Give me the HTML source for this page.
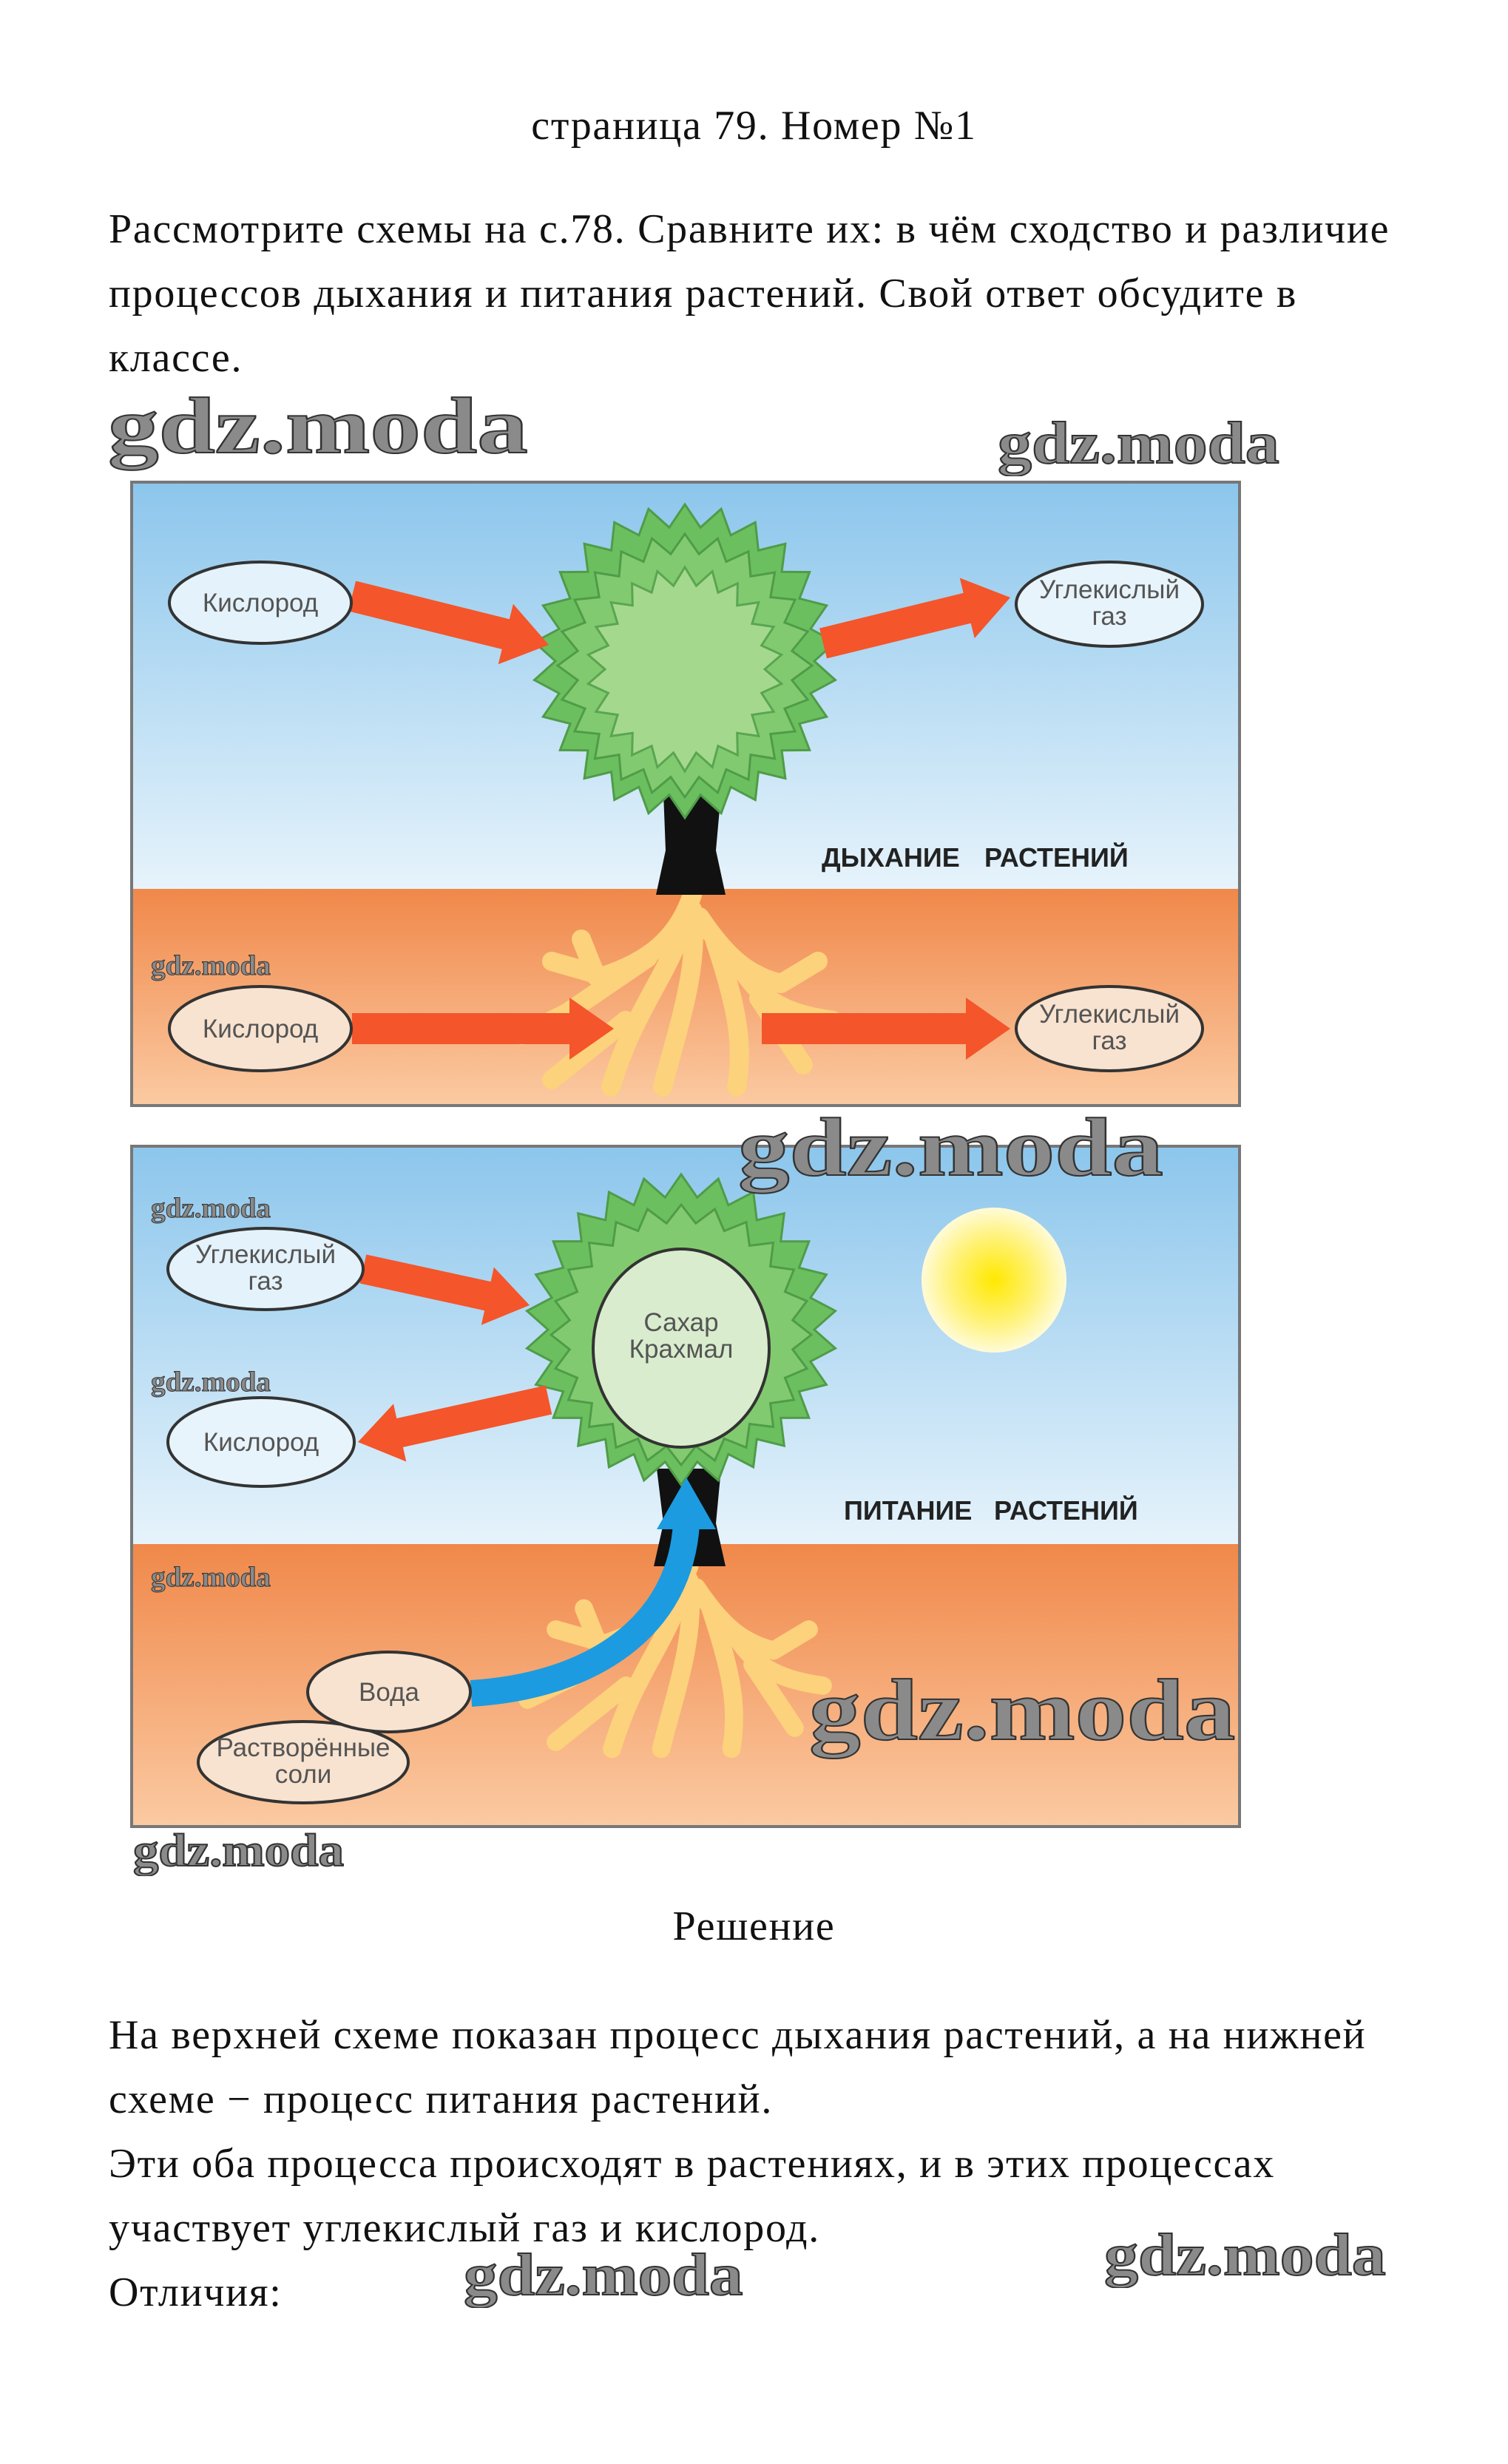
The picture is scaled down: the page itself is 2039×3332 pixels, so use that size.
<!DOCTYPE html>
<html><head><meta charset="utf-8"><style>
body{margin:0;width:2039px;height:3332px;background:#fff;position:relative;overflow:hidden;font-family:"Liberation Serif",serif;}
.t{position:absolute;font-size:56px;letter-spacing:1.7px;color:#111;white-space:nowrap;}
.wm{position:absolute;font-family:"Liberation Serif",serif;font-weight:bold;color:#8a8a8a;-webkit-text-stroke:2px #333;white-space:nowrap;transform-origin:0 0;transform:scaleX(1.25);}
.sm{font-size:38px;-webkit-text-stroke:1px #333;transform:scaleX(1.03);}
svg{position:absolute;left:0;top:0;}
</style></head><body>
<svg id="s" width="2039" height="3332" viewBox="0 0 2039 3332">
<defs>
<linearGradient id="sky" x1="0" y1="0" x2="0" y2="1"><stop offset="0" stop-color="#8cc6ec"/><stop offset="1" stop-color="#e6f3fb"/></linearGradient>
<linearGradient id="gr" x1="0" y1="0" x2="0" y2="1"><stop offset="0" stop-color="#f0884a"/><stop offset="1" stop-color="#fbcaa2"/></linearGradient>
<radialGradient id="sun"><stop offset="0" stop-color="#ffe800"/><stop offset="0.6" stop-color="#fff27a"/><stop offset="1" stop-color="#fffbd8"/></radialGradient>
</defs>
<rect x="178" y="652" width="1498" height="550" fill="url(#sky)"/>
<rect x="178" y="1202" width="1498" height="293" fill="url(#gr)"/>
<rect x="178" y="652" width="1498" height="843" fill="none" stroke="#777" stroke-width="4"/>
<rect x="178" y="1550" width="1498" height="538" fill="url(#sky)"/>
<rect x="178" y="2088" width="1498" height="382" fill="url(#gr)"/>
<rect x="178" y="1550" width="1498" height="920" fill="none" stroke="#777" stroke-width="4"/>
<g id="dyn"></g>
<circle cx="1344" cy="1731" r="98" fill="url(#sun)"/>
<g font-family="Liberation Sans, sans-serif" font-size="35" fill="#555" text-anchor="middle">
<ellipse cx="352" cy="815" rx="123" ry="55" fill="#e4f2fb" stroke="#333" stroke-width="4"/>
<text x="352" y="827">Кислород</text>
<ellipse cx="1500" cy="817" rx="126" ry="57" fill="#e8f4fb" stroke="#333" stroke-width="4"/>
<text x="1500" y="809">Углекислый</text><text x="1500" y="845">газ</text>
<ellipse cx="352" cy="1391" rx="123" ry="57" fill="#f8e3d0" stroke="#333" stroke-width="4"/>
<text x="352" y="1403">Кислород</text>
<ellipse cx="1500" cy="1391" rx="126" ry="57" fill="#f8e3d0" stroke="#333" stroke-width="4"/>
<text x="1500" y="1383">Углекислый</text><text x="1500" y="1419">газ</text>
<ellipse cx="359" cy="1716" rx="132" ry="55" fill="#e4f2fb" stroke="#333" stroke-width="4"/>
<text x="359" y="1708">Углекислый</text><text x="359" y="1744">газ</text>
<ellipse cx="353" cy="1950" rx="126" ry="60" fill="#e8f4fb" stroke="#333" stroke-width="4"/>
<text x="353" y="1962">Кислород</text>
<ellipse cx="410" cy="2383" rx="142" ry="55" fill="#f8e3d0" stroke="#333" stroke-width="4"/>
<text x="410" y="2375">Растворённые</text><text x="410" y="2411">соли</text>
<ellipse cx="526" cy="2288" rx="110" ry="54" fill="#f8e3d0" stroke="#333" stroke-width="4"/>
<text x="526" y="2300">Вода</text>
<text x="921" y="1800">Сахар</text><text x="921" y="1836">Крахмал</text>
</g>
<g font-family="Liberation Sans, sans-serif" font-size="36" font-weight="bold" fill="#222">
<text x="1111" y="1172">ДЫХАНИЕ</text><text x="1331" y="1172">РАСТЕНИЙ</text>
<text x="1141" y="2055">ПИТАНИЕ</text><text x="1344" y="2055">РАСТЕНИЙ</text>
</g>
</svg>
<div class="t" style="left:0;width:2039px;text-align:center;top:138px;">страница 79. Номер №1</div>
<div class="t" style="left:147px;top:278px;">Рассмотрите схемы на с.78. Сравните их: в чём сходство и различие</div>
<div class="t" style="left:147px;top:365px;">процессов дыхания и питания растений. Свой ответ обсудите в</div>
<div class="t" style="left:147px;top:452px;">классе.</div>
<div class="t" style="left:0;width:2039px;text-align:center;top:2573px;">Решение</div>
<div class="t" style="left:147px;top:2720px;">На верхней схеме показан процесс дыхания растений, а на нижней</div>
<div class="t" style="left:147px;top:2807px;">схеме − процесс питания растений.</div>
<div class="t" style="left:147px;top:2894px;">Эти оба процесса происходят в растениях, и в этих процессах</div>
<div class="t" style="left:147px;top:2981px;">участвует углекислый газ и кислород.</div>
<div class="t" style="left:147px;top:3068px;">Отличия:</div>
<div class="wm" style="left:146px;top:515px;font-size:108px;transform:scaleX(1.27);">gdz.moda</div>
<div class="wm" style="left:1349px;top:555px;font-size:80px;transform:scaleX(1.15);">gdz.moda</div>
<div class="wm" style="left:998px;top:1488px;font-size:112px;transform:scaleX(1.24);">gdz.moda</div>
<div class="wm" style="left:1094px;top:2245px;font-size:118px;transform:scaleX(1.18);">gdz.moda</div>
<div class="wm" style="left:180px;top:2468px;font-size:62px;transform:scaleX(1.11);">gdz.moda</div>
<div class="wm" style="left:627px;top:3032px;font-size:80px;transform:scaleX(1.14);">gdz.moda</div>
<div class="wm" style="left:1493px;top:3005px;font-size:80px;transform:scaleX(1.15);">gdz.moda</div>
<div class="wm sm" style="left:204px;top:1284px;">gdz.moda</div>
<div class="wm sm" style="left:204px;top:1612px;">gdz.moda</div>
<div class="wm sm" style="left:204px;top:1847px;">gdz.moda</div>
<div class="wm sm" style="left:204px;top:2111px;">gdz.moda</div>
<script>
var g=document.getElementById('dyn'),h='';
function zig(cx,cy,rx,ry,n,d,fill,stroke){var p=[];for(var i=0;i<2*n;i++){var a=Math.PI*i/n-Math.PI/2;var k=i%2?d:0;p.push((cx+(rx-k)*Math.cos(a)).toFixed(1)+','+(cy+(ry-k)*Math.sin(a)).toFixed(1));}
h+='<polygon points="'+p.join(' ')+'" fill="'+fill+'" stroke="'+stroke+'" stroke-width="3"/>';}
function arrow(x1,y1,x2,y2,w,hw,hl,c){var dx=x2-x1,dy=y2-y1,L=Math.hypot(dx,dy),ux=dx/L,uy=dy/L,nx=-uy,ny=ux;var bx=x2-ux*hl,by=y2-uy*hl;
var P=[[x1+nx*w/2,y1+ny*w/2],[bx+nx*w/2,by+ny*w/2],[bx+nx*hw/2,by+ny*hw/2],[x2,y2],[bx-nx*hw/2,by-ny*hw/2],[bx-nx*w/2,by-ny*w/2],[x1-nx*w/2,y1-ny*w/2]];
h+='<polygon points="'+P.map(function(q){return q[0].toFixed(1)+','+q[1].toFixed(1)}).join(' ')+'" fill="'+c+'"/>';}
function roots(ox,oy,s){var c='#fcd27c';var R=[
'M0,0 C-20,60 -60,90 -120,110 L-190,90','M-60,85 L-170,160 L-230,190','M-10,40 C-40,120 -80,160 -110,260','M-90,170 L-190,250','M0,20 C10,100 -20,180 -40,260','M10,30 C50,90 80,110 120,120 L170,90','M60,90 C90,140 120,160 190,170','M30,60 C60,150 70,200 60,260','M90,140 L150,230','M-130,110 L-150,60'];
R.forEach(function(d){h+='<path d="'+d+'" transform="translate('+ox+','+oy+') scale('+s+')" fill="none" stroke="'+c+'" stroke-width="26" stroke-linecap="round" stroke-linejoin="round"/>';});}
roots(936,1210,1);
h+='<path d="M897,1072 L975,1072 L968,1150 L981,1210 L887,1210 L900,1150 Z" fill="#111"/>';
zig(926,894,205,212,26,30,'#6cbf5f','#4f9c48');
zig(926,900,172,178,24,26,'#82ca6f','#4f9c48');
zig(926,905,132,138,22,24,'#a4d98d','#5aa551');
arrow(476,806,742,872,42,84,60,'#f4552a');
arrow(1113,870,1366,808,42,84,60,'#f4552a');
arrow(476,1391,830,1391,42,84,60,'#f4552a');
arrow(1030,1391,1366,1391,42,84,60,'#f4552a');
roots(932,2118,0.95);
h+='<path d="M888,1986 L975,1986 L968,2060 L981,2118 L884,2118 L897,2060 Z" fill="#111"/>';
zig(921,1798,210,210,26,30,'#6cbf5f','#4f9c48');
zig(921,1805,176,176,24,24,'#82ca6f','#4f9c48');
h+='<ellipse cx="921" cy="1823" rx="119" ry="134" fill="#d9edce" stroke="#333" stroke-width="4"/>';
arrow(491,1716,716,1765,40,80,58,'#f4552a');
arrow(742,1893,484,1950,40,80,58,'#f4552a');
h+='<path d="M637,2290 C800,2280 920,2200 928,2060" fill="none" stroke="#1c9be0" stroke-width="36"/>';
h+='<polygon points="928,1998 888,2068 968,2068" fill="#1c9be0"/>';
g.innerHTML=h;
</script>
</body></html>
